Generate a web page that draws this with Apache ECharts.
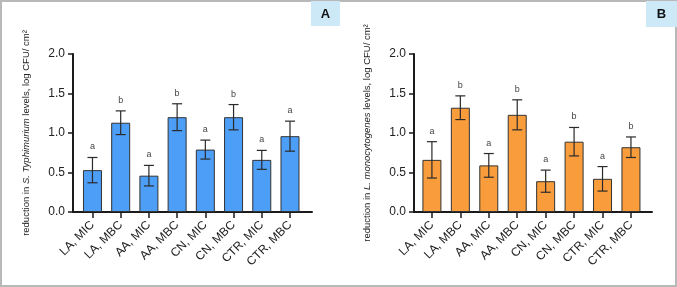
<!DOCTYPE html>
<html>
<head>
<meta charset="utf-8">
<script src="https://cdn.jsdelivr.net/npm/echarts@6/dist/echarts.min.js"></script>
<style>
  html, body { margin: 0; padding: 0; background: #fff; }
  #chart { width: 677px; height: 287px; }
</style>
</head>
<body>
<div id="chart"></div>
<script>
  // categories shared by both panels
  const categories = ["LA, MIC", "LA, MBC", "AA, MIC", "AA, MBC", "CN, MIC", "CN, MBC", "CTR, MIC", "CTR, MBC"];
  const yTicks = [0, 0.5, 1.0, 1.5, 2.0];

  // panel A: S. Typhimurium
  const meanA = [0.53, 1.13, 0.46, 1.20, 0.79, 1.20, 0.66, 0.96];
  const errA = [0.16, 0.15, 0.13, 0.17, 0.12, 0.16, 0.12, 0.19];
  const letterA = ["a", "b", "a", "b", "a", "b", "a", "a"];

  // panel B: L. monocytogenes
  const meanB = [0.66, 1.32, 0.59, 1.23, 0.39, 0.89, 0.42, 0.82];
  const errB = [0.23, 0.15, 0.15, 0.19, 0.14, 0.18, 0.155, 0.13];
  const letterB = ["a", "b", "a", "b", "a", "b", "a", "b"];

  const chart = echarts.init(document.getElementById("chart"));
  const FONT = "Liberation Sans, Arial, sans-serif";
  const idx = categories.map((c, i) => i);

  // x轴: 数值轴 + 自定义刻度, 让柱子离y轴留点空
  const makeX = (gridIndex, min, max) => ({
    type: "value",
    gridIndex: gridIndex,
    min: min,
    max: max,
    splitLine: { show: false },
    axisLine: { show: true, onZero: false, lineStyle: { color: "#1a1a1a", width: 2 } },
    axisTick: { show: true, customValues: idx, length: 6, lineStyle: { color: "#1a1a1a", width: 1.5 } },
    axisLabel: {
      customValues: idx,
      rotate: 45,
      margin: 11,
      fontFamily: FONT,
      fontSize: 12,
      color: "#222",
      formatter: (v) => categories[Math.round(v)]
    }
  });

  const makeY = (gridIndex, name) => ({
    type: "value",
    gridIndex: gridIndex,
    min: 0,
    max: 2,
    interval: 0.5,
    name: name,
    nameLocation: "middle",
    nameGap: 42,
    nameTextStyle: {
      fontFamily: FONT,
      fontSize: 9.5,
      color: "#222",
      rich: { i: { fontFamily: FONT, fontSize: 9.5, fontStyle: "italic", color: "#222" } }
    },
    splitLine: { show: false },
    axisLine: { show: true, onZero: false, lineStyle: { color: "#1a1a1a", width: 2 } },
    axisTick: { show: true, length: 5, lineStyle: { color: "#1a1a1a", width: 1.5 } },
    axisLabel: {
      margin: 8,
      fontFamily: FONT,
      fontSize: 12,
      color: "#222",
      formatter: (v) => v.toFixed(1)
    }
  });

  const barSeries = (axisIndex, means, color) => ({
    type: "bar",
    xAxisIndex: axisIndex,
    yAxisIndex: axisIndex,
    barWidth: 19,
    data: means.map((m, i) => [i, m]),
    itemStyle: { color: color, borderColor: "#333", borderWidth: 1 }
  });

  // 误差线 + 显著性字母
  const errSeries = (axisIndex, means, errs, letters) => ({
    type: "custom",
    xAxisIndex: axisIndex,
    yAxisIndex: axisIndex,
    z: 5,
    data: means.map((m, i) => [i, m - errs[i], m + errs[i]]),
    renderItem: (params, api) => {
      const lo = api.coord([api.value(0), api.value(1)]);
      const hi = api.coord([api.value(0), api.value(2)]);
      const half = 5;
      const st = { stroke: "#2a2a2a", lineWidth: 1.2 };
      return {
        type: "group",
        children: [
          { type: "line", shape: { x1: hi[0], y1: hi[1], x2: lo[0], y2: lo[1] }, style: st },
          { type: "line", shape: { x1: hi[0] - half, y1: hi[1], x2: hi[0] + half, y2: hi[1] }, style: st },
          { type: "line", shape: { x1: lo[0] - half, y1: lo[1], x2: lo[0] + half, y2: lo[1] }, style: st },
          {
            type: "text",
            x: hi[0],
            y: hi[1] - 6,
            style: {
              text: letters[params.dataIndex],
              fill: "#444",
              font: "9px " + FONT,
              textAlign: "center",
              textVerticalAlign: "bottom"
            }
          }
        ]
      };
    }
  });

  const option = {
    animation: false,
    backgroundColor: "#fff",
    grid: [
      { left: 73, top: 54, width: 239, height: 158 },
      { left: 414, top: 54, width: 238, height: 158 }
    ],
    xAxis: [makeX(0, -0.69, 7.78), makeX(1, -0.63, 7.74)],
    yAxis: [
      makeY(0, "reduction in {i|S. Typhimurium} levels, log CFU/ cm²"),
      makeY(1, "reduction in {i|L. monocytogenes} levels, log CFU/ cm²")
    ],
    series: [
      barSeries(0, meanA, "#4d9ef7"),
      errSeries(0, meanA, errA, letterA),
      barSeries(1, meanB, "#f99c3c"),
      errSeries(1, meanB, errB, letterB)
    ],
    graphic: [
      { type: "rect", shape: { x: 1, y: 1, width: 675, height: 285 }, style: { fill: "none", stroke: "#b8b8b8", lineWidth: 2 }, z: 10 },
      { type: "rect", shape: { x: 311, y: 1, width: 29, height: 25 }, style: { fill: "#cde9f8" }, z: 11 },
      { type: "text", x: 325.5, y: 14, style: { text: "A", font: "bold 13px " + FONT, fill: "#111", textAlign: "center", textVerticalAlign: "middle" }, z: 12 },
      { type: "rect", shape: { x: 646, y: 1, width: 31, height: 26 }, style: { fill: "#cde9f8" }, z: 11 },
      { type: "text", x: 661.5, y: 14, style: { text: "B", font: "bold 13px " + FONT, fill: "#111", textAlign: "center", textVerticalAlign: "middle" }, z: 12 }
    ]
  };

  chart.setOption(option);
</script>
</body>
</html>
